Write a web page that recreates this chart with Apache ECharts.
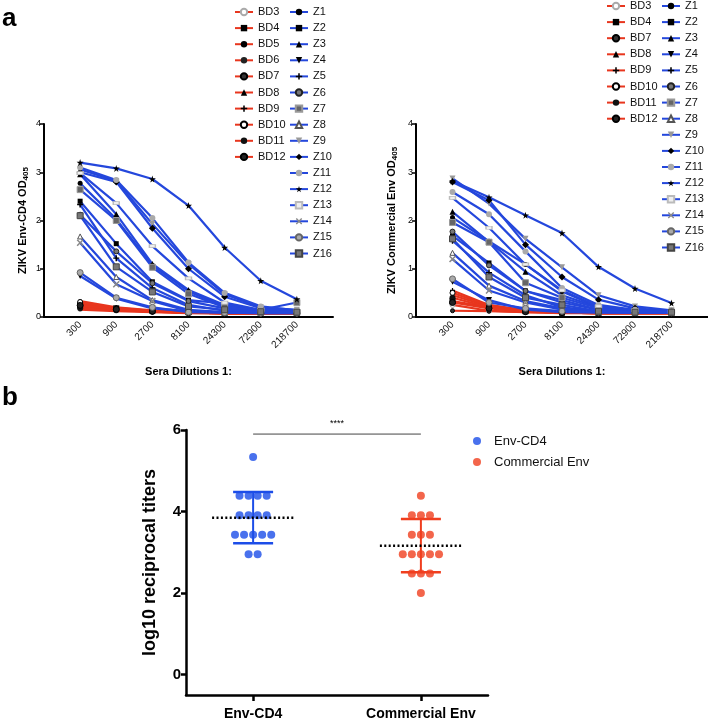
<!DOCTYPE html>
<html><head><meta charset="utf-8">
<script src="https://cdn.jsdelivr.net/npm/echarts@6/dist/echarts.min.js"></script>
<style>html,body{margin:0;padding:0;background:#fff}#c{width:708px;height:727px}</style>
</head><body><div id="c"></div><script>
// ---------- DATA ----------
const dilutions = ['300','900','2700','8100','24300','72900','218700'];
const odTicks = [0,1,2,3,4];
const titerTicks = [0,2,4,6];
const groups = ['Env-CD4','Commercial Env'];

// Panel a, left: ZIKV Env-CD4 OD405
const cd4_BD3  = [0.30,0.18,0.12,0.09,0.08,0.08,0.08];
const cd4_BD4  = [0.25,0.18,0.13,0.10,0.08,0.08,0.08];
const cd4_BD5  = [0.22,0.16,0.12,0.09,0.08,0.07,0.08];
const cd4_BD6  = [0.33,0.20,0.14,0.10,0.09,0.08,0.08];
const cd4_BD7  = [0.28,0.19,0.13,0.10,0.08,0.08,0.08];
const cd4_BD8  = [0.15,0.12,0.10,0.08,0.07,0.07,0.07];
const cd4_BD9  = [0.20,0.15,0.11,0.09,0.08,0.07,0.07];
const cd4_BD10 = [0.31,0.17,0.12,0.09,0.08,0.08,0.08];
const cd4_BD11 = [0.18,0.14,0.11,0.09,0.08,0.07,0.07];
const cd4_BD12 = [0.24,0.16,0.12,0.09,0.08,0.08,0.08];
const cd4_Z1  = [2.77,2.03,1.07,0.53,0.22,0.13,0.10];
const cd4_Z2  = [2.40,1.52,0.73,0.35,0.28,0.12,0.10];
const cd4_Z3  = [2.96,2.13,1.10,0.56,0.25,0.14,0.12];
const cd4_Z4  = [0.85,0.38,0.18,0.12,0.09,0.08,0.08];
const cd4_Z5  = [2.33,1.22,0.60,0.25,0.13,0.10,0.10];
const cd4_Z6  = [2.12,1.36,0.70,0.33,0.18,0.12,0.10];
const cd4_Z7  = [2.64,2.00,1.03,0.48,0.20,0.15,0.30];
const cd4_Z8  = [1.67,0.83,0.35,0.15,0.10,0.09,0.09];
const cd4_Z9  = [3.06,2.82,1.93,1.10,0.47,0.20,0.15];
const cd4_Z10 = [3.00,2.80,1.84,1.00,0.42,0.18,0.12];
const cd4_Z11 = [3.10,2.84,2.05,1.13,0.50,0.22,0.14];
const cd4_Z12 = [3.20,3.08,2.86,2.31,1.44,0.75,0.37];
const cd4_Z13 = [2.98,2.36,1.47,0.80,0.30,0.15,0.12];
const cd4_Z14 = [1.54,0.68,0.33,0.12,0.10,0.09,0.09];
const cd4_Z15 = [0.92,0.40,0.20,0.10,0.09,0.08,0.08];
const cd4_Z16 = [2.10,1.04,0.52,0.22,0.15,0.11,0.10];

// Panel a, right: ZIKV Commercial Env OD405
const com_BD3  = [0.25,0.13,0.10,0.09,0.08,0.08,0.08];
const com_BD4  = [0.33,0.20,0.12,0.09,0.08,0.08,0.08];
const com_BD7  = [0.13,0.12,0.10,0.08,0.08,0.08,0.08];
const com_BD8  = [0.45,0.22,0.12,0.09,0.08,0.08,0.08];
const com_BD9  = [0.55,0.25,0.14,0.10,0.08,0.08,0.08];
const com_BD10 = [0.50,0.24,0.13,0.09,0.08,0.08,0.08];
const com_BD11 = [0.40,0.20,0.12,0.09,0.08,0.08,0.08];
const com_BD12 = [0.30,0.18,0.11,0.09,0.08,0.08,0.08];
const com_Z1  = [2.06,1.57,1.09,0.53,0.20,0.13,0.11];
const com_Z2  = [1.68,1.12,0.54,0.30,0.15,0.11,0.10];
const com_Z3  = [2.18,1.56,0.94,0.45,0.20,0.13,0.11];
const com_Z4  = [0.73,0.35,0.15,0.10,0.09,0.09,0.09];
const com_Z5  = [1.58,0.92,0.45,0.20,0.12,0.10,0.09];
const com_Z6  = [1.77,1.07,0.54,0.35,0.15,0.11,0.10];
const com_Z7  = [1.96,1.55,0.71,0.40,0.18,0.12,0.10];
const com_Z8  = [1.33,0.65,0.33,0.18,0.11,0.10,0.09];
const com_Z9  = [2.87,2.35,1.62,1.03,0.45,0.22,0.14];
const com_Z10 = [2.80,2.42,1.50,0.83,0.36,0.18,0.12];
const com_Z11 = [2.59,2.13,1.36,0.60,0.25,0.15,0.12];
const com_Z12 = [2.82,2.48,2.11,1.74,1.04,0.59,0.29];
const com_Z13 = [2.47,1.85,1.09,0.55,0.22,0.14,0.11];
const com_Z14 = [1.20,0.55,0.30,0.15,0.10,0.09,0.09];
const com_Z15 = [0.79,0.30,0.18,0.12,0.10,0.09,0.09];
const com_Z16 = [1.62,0.83,0.40,0.25,0.12,0.10,0.10];

// Panel b: log10 reciprocal titers
const envCD4Titers     = [5.34,4.39,4.39,4.39,4.39,3.91,3.91,3.91,3.91,3.43,3.43,3.43,3.43,3.43,2.95,2.95];
const commercialTiters = [4.39,3.91,3.91,3.91,3.43,3.43,3.43,2.95,2.95,2.95,2.95,2.95,2.48,2.48,2.48,2.00];
const significance = '****';

// ---------- STYLES ----------
const BLUE = '#2447DC', RED = '#E8361E';
const DOT_BLUE = '#1C4DE8', DOT_RED = '#F03E1E';
const STAR = 'path://M50,0 L61,35 L98,35 L68,57 L79,91 L50,70 L21,91 L32,57 L2,35 L39,35 Z';
const XS = 'path://M0,15 L15,0 L50,35 L85,0 L100,15 L65,50 L100,85 L85,100 L50,65 L15,100 L0,85 L35,50 Z';
const PLUS = 'path://M38,0 H62 V38 H100 V62 H62 V100 H38 V62 H0 V38 H38 Z';
const FONT = 'Liberation Sans, Arial, Helvetica, sans-serif';

const symStyle = {
  BD3:{s:'circle',c:'#fff',b:'#aaa',sz:5}, BD4:{s:'rect',c:'#000',sz:6}, BD5:{s:'circle',c:'#000',sz:5},
  BD6:{s:'circle',c:'#222',sz:4}, BD7:{s:'circle',c:'#333',b:'#000',sz:4}, BD8:{s:'triangle',c:'#000',sz:3},
  BD9:{s:PLUS,c:'#000',sz:5}, BD10:{s:'circle',c:'#fff',b:'#000',sz:5}, BD11:{s:'circle',c:'#111',sz:6},
  BD12:{s:'circle',c:'#222',b:'#000',sz:6},
  Z1:{s:'circle',c:'#000',sz:5}, Z2:{s:'rect',c:'#000',sz:5}, Z3:{s:'triangle',c:'#000',sz:6},
  Z4:{s:'triangle',c:'#000',r:180,sz:6}, Z5:{s:PLUS,c:'#000',sz:6}, Z6:{s:'circle',c:'#777',b:'#222',sz:5},
  Z7:{s:'rect',c:'#666',b:'#999',sz:6}, Z8:{s:'triangle',c:'#fff',b:'#555',sz:5}, Z9:{s:'triangle',c:'#999',r:180,sz:6},
  Z10:{s:'diamond',c:'#000',sz:7}, Z11:{s:'circle',c:'#aaa',sz:6}, Z12:{s:STAR,c:'#000',sz:7},
  Z13:{s:'rect',c:'#eee',b:'#bbb',sz:[6,3]}, Z14:{s:XS,c:'#888',sz:7}, Z15:{s:'circle',c:'#aaa',b:'#666',sz:6},
  Z16:{s:'rect',c:'#777',b:'#444',sz:6}
};

const leftBD = [['BD3',cd4_BD3],['BD4',cd4_BD4],['BD5',cd4_BD5],['BD6',cd4_BD6],['BD7',cd4_BD7],['BD8',cd4_BD8],['BD9',cd4_BD9],['BD10',cd4_BD10],['BD11',cd4_BD11],['BD12',cd4_BD12]];
const leftZ = [['Z1',cd4_Z1],['Z2',cd4_Z2],['Z3',cd4_Z3],['Z4',cd4_Z4],['Z5',cd4_Z5],['Z6',cd4_Z6],['Z7',cd4_Z7],['Z8',cd4_Z8],['Z9',cd4_Z9],['Z10',cd4_Z10],['Z11',cd4_Z11],['Z12',cd4_Z12],['Z13',cd4_Z13],['Z14',cd4_Z14],['Z15',cd4_Z15],['Z16',cd4_Z16]];
const rightBD = [['BD3',com_BD3],['BD4',com_BD4],['BD7',com_BD7],['BD8',com_BD8],['BD9',com_BD9],['BD10',com_BD10],['BD11',com_BD11],['BD12',com_BD12]];
const rightZ = [['Z1',com_Z1],['Z2',com_Z2],['Z3',com_Z3],['Z4',com_Z4],['Z5',com_Z5],['Z6',com_Z6],['Z7',com_Z7],['Z8',com_Z8],['Z9',com_Z9],['Z10',com_Z10],['Z11',com_Z11],['Z12',com_Z12],['Z13',com_Z13],['Z14',com_Z14],['Z15',com_Z15],['Z16',com_Z16]];

function lineSeries(name, vals, color, idx) {
  const st = symStyle[name];
  return {
    type:'line', name, xAxisIndex:idx, yAxisIndex:idx,
    data: vals.map((v,i)=>[i+1, v]),
    symbol: st.s, symbolSize: st.sz, symbolRotate: st.r || 0, showSymbol:true,
    lineStyle:{color, width:2.2}, itemStyle:{color: st.c, borderColor: st.b || st.c, borderWidth: st.b ? 1 : 0},
    emphasis:{disabled:true}, animation:false, clip:false
  };
}

function swarm(vals, cx, step) {
  const out = [];
  const seen = {};
  const counts = {};
  vals.forEach(v => counts[v] = (counts[v]||0) + 1);
  vals.forEach(v => {
    const k = seen[v] = (seen[v] === undefined ? 0 : seen[v] + 1);
    out.push([cx + (k - (counts[v]-1)/2) * step, v]);
  });
  return out;
}
function meanSd(vals) {
  const m = vals.reduce((a,b)=>a+b,0)/vals.length;
  const sd = Math.sqrt(vals.reduce((a,b)=>a+(b-m)*(b-m),0)/(vals.length-1));
  return [m, sd];
}

const series = [];
leftBD.forEach(([n,v]) => series.push(lineSeries(n, v, RED, 0)));
leftZ.forEach(([n,v]) => series.push(lineSeries(n, v, BLUE, 0)));
rightBD.forEach(([n,v]) => series.push(lineSeries(n, v, RED, 1)));
rightZ.forEach(([n,v]) => series.push(lineSeries(n, v, BLUE, 1)));

const step = 0.054;
series.push({type:'scatter', name:groups[0], xAxisIndex:2, yAxisIndex:2, data: swarm(envCD4Titers, 1, step),
  symbolSize:8, itemStyle:{color:DOT_BLUE}, animation:false, clip:false});
series.push({type:'scatter', name:groups[1], xAxisIndex:2, yAxisIndex:2, data: swarm(commercialTiters, 2, step),
  symbolSize:8, itemStyle:{color:DOT_RED}, animation:false, clip:false});

const stats = [[1, ...meanSd(envCD4Titers)], [2, ...meanSd(commercialTiters)]];
const barColors = [DOT_BLUE, DOT_RED];
series.push({type:'custom', xAxisIndex:2, yAxisIndex:2, clip:false, animation:false, data: stats, z:5,
  renderItem(params, api) {
    const x = api.value(0), m = api.value(1), s = api.value(2);
    const c = api.coord([x, m]), t = api.coord([x, m+s]), b = api.coord([x, m-s]);
    const col = barColors[params.dataIndex];
    return {type:'group', children:[
      {type:'line', shape:{x1:c[0], y1:t[1], x2:c[0], y2:b[1]}, style:{stroke:col, lineWidth:2}},
      {type:'line', shape:{x1:c[0]-20, y1:t[1], x2:c[0]+20, y2:t[1]}, style:{stroke:col, lineWidth:2.5}},
      {type:'line', shape:{x1:c[0]-20, y1:b[1], x2:c[0]+20, y2:b[1]}, style:{stroke:col, lineWidth:2.5}},
      {type:'line', shape:{x1:c[0]-41, y1:c[1], x2:c[0]+41, y2:c[1]}, style:{stroke:'#000', lineWidth:2.5, lineDash:[2,2.4]}}
    ]};
  }});
series.push({type:'custom', xAxisIndex:2, yAxisIndex:2, clip:false, animation:false, data:[[1,2,5.9]],
  renderItem(params, api) {
    const p1 = api.coord([api.value(0), api.value(2)]), p2 = api.coord([api.value(1), api.value(2)]);
    return {type:'group', children:[
      {type:'line', shape:{x1:p1[0], y1:p1[1], x2:p2[0], y2:p2[1]}, style:{stroke:'#444', lineWidth:1}},
      {type:'text', style:{text:significance, x:(p1[0]+p2[0])/2, y:p1[1]-6, align:'center', verticalAlign:'bottom', font:'9px '+FONT, fill:'#000'}}
    ]};
  }});

function odY(idx, nameRich, gap) {
  return {gridIndex:idx, type:'value', min:0, max:4, interval:1,
    axisLine:{show:true, onZero:false, lineStyle:{color:'#000', width:2}},
    axisTick:{show:true, length:4, lineStyle:{color:'#000', width:1.5}},
    axisLabel:{fontSize:9, color:'#000', margin:3, customValues: odTicks},
    splitLine:{show:false},
    name: nameRich, nameLocation:'middle', nameGap:gap, nameRotate:90,
    nameTextStyle:{rich:{
      m:{fontSize:11, fontWeight:'bold', color:'#000', fontFamily:FONT, lineHeight:14, verticalAlign:'middle'},
      s:{fontSize:8, fontWeight:'bold', color:'#000', fontFamily:FONT, lineHeight:14, verticalAlign:'bottom'}
    }}};
}
function dilX(idx) {
  return {gridIndex:idx, type:'value', min:0, max:8, interval:1,
    axisLine:{onZero:false, lineStyle:{color:'#000', width:2}},
    axisTick:{show:false}, splitLine:{show:false},
    axisLabel:{rotate:45, fontSize:10, color:'#111', margin:6, customValues:[1,2,3,4,5,6,7],
      formatter: v => (dilutions[v-1] || '')},
    name:'Sera Dilutions 1:', nameLocation:'middle', nameGap:49,
    nameTextStyle:{fontWeight:'bold', fontSize:11, color:'#000'}};
}

const legendBase = {orient:'vertical', selectedMode:false, itemWidth:18, itemHeight:8, itemGap:4.1,
  textStyle:{fontSize:11, color:'#111', lineHeight:12, fontFamily:FONT}};

const option = {
  backgroundColor:'#fff',
  animation:false,
  textStyle:{fontFamily:FONT},
  grid:[
    {left:44, top:124, width:289, height:193},
    {left:416, top:124, width:292, height:193},
    {left:186, top:430, width:302, height:265}
  ],
  xAxis:[ dilX(0), dilX(1),
    {gridIndex:2, type:'value', min:0.6, max:2.4,
      axisLine:{onZero:false, lineStyle:{color:'#000', width:2.5}},
      axisTick:{show:true, length:6, customValues:[1,2], lineStyle:{color:'#000', width:2.5}},
      axisLabel:{customValues:[1,2], formatter: v => (groups[Math.round(v)-1] || ''), fontSize:14, fontWeight:'bold', color:'#000', margin:12},
      splitLine:{show:false}}
  ],
  yAxis:[ odY(0, '{m|ZIKV Env-CD4 OD}{s|405}', 14), odY(1, '{m|ZIKV Commercial Env OD}{s|405}', 17),
    {gridIndex:2, type:'value', min:-0.5, max:6,
      axisLine:{show:true, onZero:false, lineStyle:{color:'#000', width:2.5}},
      axisTick:{show:true, length:5, customValues:titerTicks, lineStyle:{color:'#000', width:2.5}},
      axisLabel:{customValues:titerTicks, fontSize:15, fontWeight:'bold', color:'#000', margin:5},
      splitLine:{show:false},
      name:'log10 reciprocal titers', nameLocation:'middle', nameGap:27, nameRotate:90,
      nameTextStyle:{fontSize:18, fontWeight:'bold', color:'#000'}}
  ],
  legend:[
    Object.assign({}, legendBase, {left:229, top:1, data: leftBD.map(d=>d[0])}),
    Object.assign({}, legendBase, {left:284, top:1, data: leftZ.map(d=>d[0])}),
    Object.assign({}, legendBase, {left:601, top:-5, data: rightBD.map(d=>d[0])}),
    Object.assign({}, legendBase, {left:656, top:-5, data: rightZ.map(d=>d[0])}),
    {orient:'vertical', selectedMode:false, left:468, top:429, itemWidth:8, itemHeight:8, itemGap:7, icon:'circle',
      textStyle:{fontSize:13, color:'#111', lineHeight:14, padding:[0,0,0,8], fontFamily:FONT}, data: groups}
  ],
  graphic:[
    {type:'text', left:2, top:6, style:{text:'a', font:'bold 26px '+FONT, fill:'#000'}},
    {type:'text', left:2, top:385, style:{text:'b', font:'bold 26px '+FONT, fill:'#000'}}
  ],
  series
};
const chart = echarts.init(document.getElementById('c'), null, {renderer:'canvas'});
chart.setOption(option);
</script></body></html>
